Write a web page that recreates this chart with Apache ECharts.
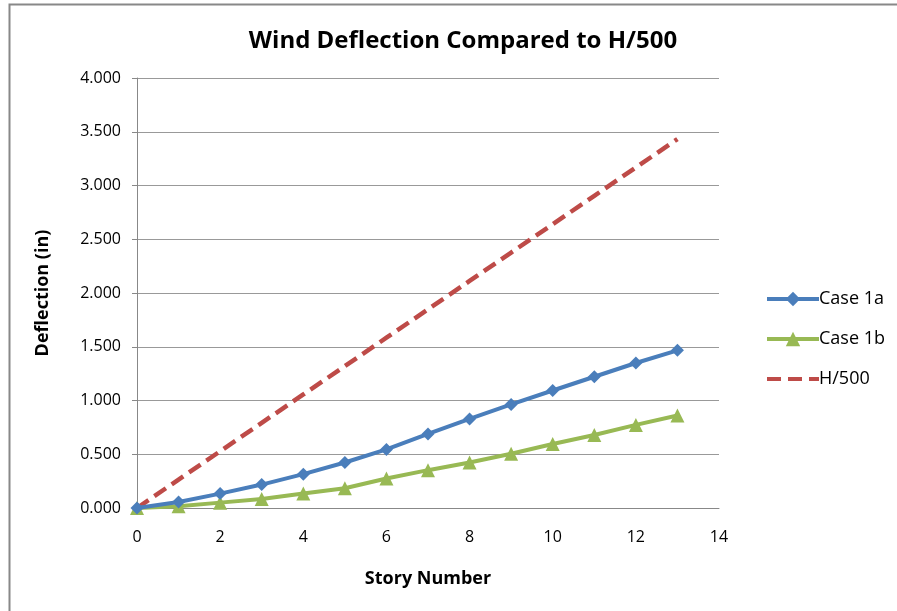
<!DOCTYPE html>
<html><head><meta charset="utf-8">
<script src="https://cdn.jsdelivr.net/npm/echarts@6/dist/echarts.min.js"></script>
<style>html,body{margin:0;padding:0;background:#fff}#c{width:897px;height:611px}</style>
</head><body><div id="c"></div>
<script>
const stories = [0,1,2,3,4,5,6,7,8,9,10,11,12,13];
const case1a = [0,0.056,0.134,0.218,0.315,0.423,0.545,0.689,0.829,0.963,1.093,1.221,1.349,1.467];
const case1b = [0,0.016,0.050,0.084,0.134,0.184,0.274,0.352,0.423,0.505,0.595,0.679,0.773,0.860];
const h500 = [0,0.264,0.528,0.792,1.056,1.320,1.584,1.848,2.112,2.376,2.640,2.904,3.168,3.432];
const seriesNames = ['Case 1a','Case 1b','H/500'];
const titleText = 'Wind Deflection Compared to H/500';

const pair = arr => stories.map((s,i)=>[s,arr[i]]);
const ff = '"Open Sans",sans-serif';
const chart = echarts.init(document.getElementById('c'));
chart.setOption({
  animation:false,
  backgroundColor:'#fff',
  graphic:[{type:'polyline',shape:{points:[[9.5,611],[9.5,4.5],[897,4.5]]},style:{fill:null,stroke:'#888',lineWidth:2},silent:true}],
  title:{text:titleText,left:458,top:24,textAlign:'center',textStyle:{fontFamily:ff,fontSize:24,fontWeight:'bold',color:'#000'}},
  grid:{left:137,right:178,top:78,bottom:103},
  legend:{orient:'vertical',left:760,top:285,itemGap:22,itemWidth:52,itemHeight:18,
    lineStyle:{width:4},
    textStyle:{fontFamily:ff,fontSize:18,color:'#000',padding:[0,0,0,-5]},
    data:[seriesNames[0],seriesNames[1],{name:seriesNames[2],itemStyle:{opacity:0}}]},
  xAxis:{type:'value',min:0,max:14,interval:2,
    name:'Story Number',nameLocation:'middle',nameGap:62,
    nameTextStyle:{fontFamily:ff,fontSize:18,fontWeight:'bold',color:'#000'},
    axisLine:{lineStyle:{color:'#888'}},axisTick:{show:false},
    axisLabel:{fontFamily:ff,fontSize:16,color:'#000',margin:21},
    splitLine:{show:false}},
  yAxis:{type:'value',min:0,max:4,interval:0.5,
    name:'Deflection (in)',nameLocation:'middle',nameGap:85,
    nameTextStyle:{fontFamily:ff,fontSize:18,fontWeight:'bold',color:'#000'},
    axisLine:{show:true,lineStyle:{color:'#888'}},axisTick:{show:true,length:5,inside:false,lineStyle:{color:'#888'}},
    axisLabel:{fontFamily:ff,fontSize:16,color:'#000',margin:16,formatter:v=>v.toFixed(3)},
    splitLine:{lineStyle:{color:'#999',width:1}}},
  series:[
    {name:seriesNames[0],type:'line',data:pair(case1a),symbol:'diamond',symbolSize:13,
      lineStyle:{color:'#4a7ebb',width:4},itemStyle:{color:'#4a7ebb'},z:3},
    {name:seriesNames[1],type:'line',data:pair(case1b),symbol:'triangle',symbolSize:14,
      lineStyle:{color:'#98b954',width:4},itemStyle:{color:'#98b954'},z:2},
    {name:seriesNames[2],type:'line',data:pair(h500),symbol:'none',
      lineStyle:{color:'#be4b48',width:4.5,type:[14,7]},itemStyle:{color:'#be4b48'},z:1}
  ]
});
</script></body></html>
